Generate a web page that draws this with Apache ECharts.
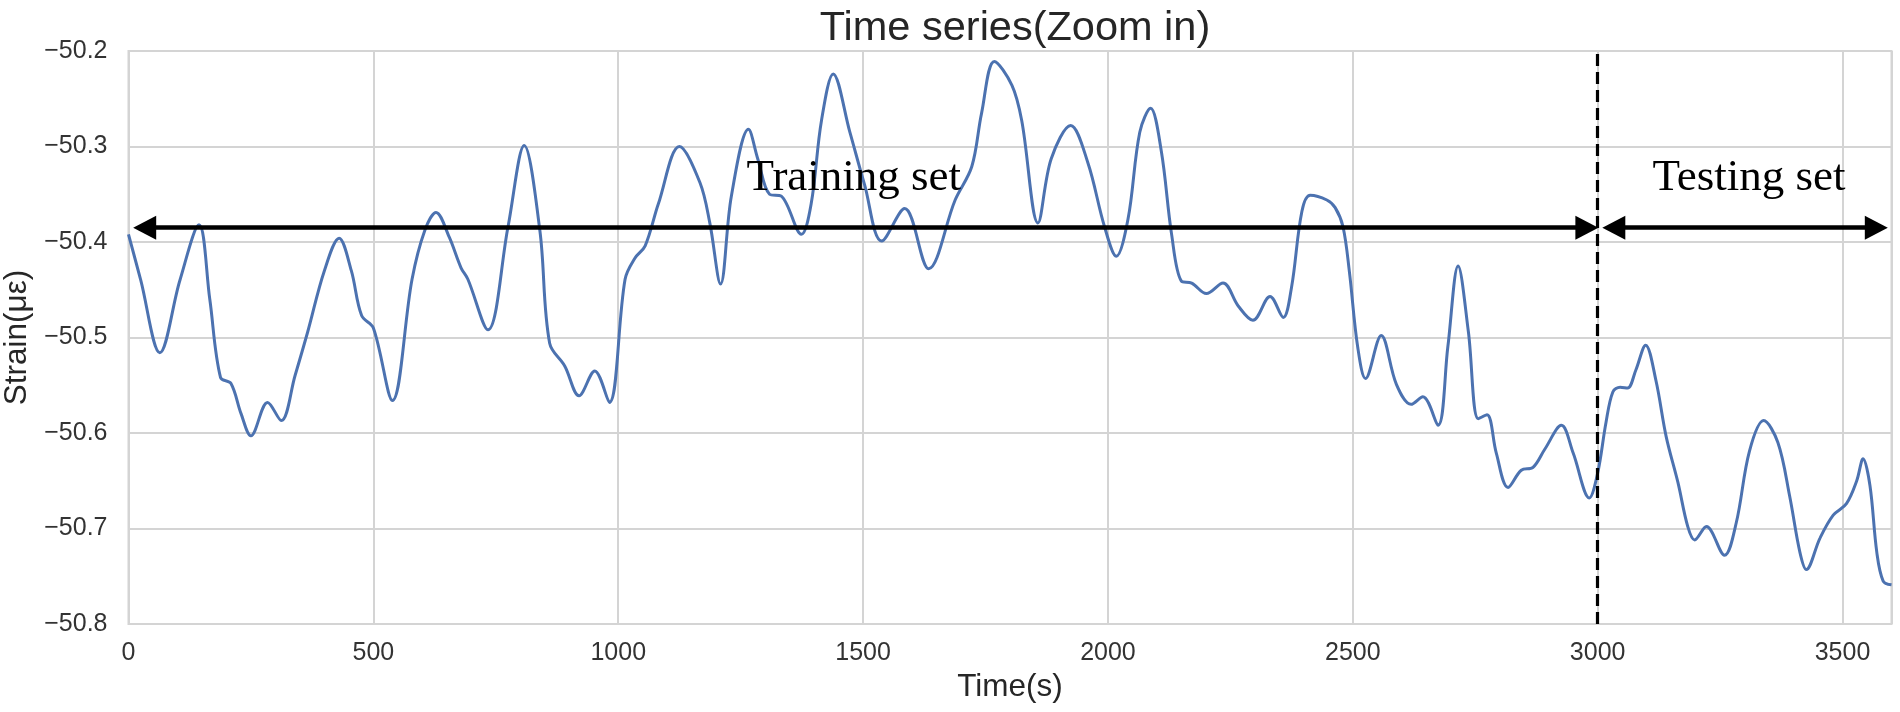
<!DOCTYPE html>
<html>
<head>
<meta charset="utf-8">
<script src="https://cdn.jsdelivr.net/npm/echarts@6/dist/echarts.min.js"></script>
<style>html,body{margin:0;padding:0;background:#fff}#c{width:1900px;height:712px}</style>
</head>
<body>
<div id="c"></div>
<script>
// Time (s)
const times = [0,25,64,105,144,166,188,209,230,250,284,312,340,366,400,430,455,476,500,539,579,605,628,655,679,693,734,775,808,840,860,891,920,952,982,1014,1034,1055,1082,1125,1167,1187,1209,1231,1266,1285,1309,1333,1374,1394,1415,1439,1473,1503,1538,1585,1634,1688,1722,1742,1768,1804,1824,1857,1884,1924,1959,1993,2017,2041,2065,2087,2109,2130,2150,2171,2201,2235,2266,2296,2331,2358,2375,2396,2413,2447,2464,2480,2493,2510,2526,2558,2589,2619,2643,2674,2694,2715,2736,2756,2774,2793,2817,2844,2868,2892,2926,2950,2983,3000,3017,3031,3046,3061,3078,3098,3119,3140,3164,3184,3198,3222,3259,3283,3310,3339,3368,3392,3413,3426,3454,3481,3508,3529,3542,3556,3570,3583,3600];
// Strain (με)
const strain = [-50.392,-50.440,-50.516,-50.440,-50.382,-50.460,-50.542,-50.548,-50.580,-50.603,-50.568,-50.587,-50.540,-50.494,-50.430,-50.396,-50.430,-50.477,-50.490,-50.566,-50.439,-50.388,-50.369,-50.395,-50.427,-50.439,-50.492,-50.384,-50.299,-50.388,-50.506,-50.530,-50.561,-50.535,-50.568,-50.439,-50.417,-50.404,-50.360,-50.300,-50.338,-50.380,-50.444,-50.352,-50.282,-50.313,-50.350,-50.352,-50.392,-50.360,-50.273,-50.224,-50.285,-50.340,-50.399,-50.365,-50.428,-50.356,-50.321,-50.265,-50.211,-50.236,-50.273,-50.380,-50.313,-50.278,-50.317,-50.384,-50.415,-50.376,-50.285,-50.260,-50.305,-50.392,-50.441,-50.443,-50.454,-50.443,-50.467,-50.482,-50.457,-50.479,-50.447,-50.368,-50.351,-50.356,-50.364,-50.384,-50.431,-50.510,-50.543,-50.498,-50.549,-50.570,-50.562,-50.592,-50.510,-50.425,-50.494,-50.585,-50.581,-50.621,-50.657,-50.639,-50.636,-50.617,-50.592,-50.621,-50.668,-50.642,-50.589,-50.557,-50.552,-50.553,-50.534,-50.508,-50.545,-50.604,-50.652,-50.698,-50.712,-50.698,-50.728,-50.694,-50.619,-50.587,-50.610,-50.666,-50.725,-50.743,-50.710,-50.686,-50.674,-50.650,-50.627,-50.655,-50.725,-50.755,-50.759];

const splitTime = 3000;
const arrowY = -50.385;
const trainArrow = [33, 2978];
const testArrow = [3033, 3569];
const labelY = -50.333;
const trainLabelX = 1481;
const testLabelX = 3309;
const labels = ['Training set', 'Testing set'];

const chart = echarts.init(document.getElementById('c'), null, {renderer: 'canvas'});
const txt = '#262626';
const gridColor = '#d4d4d4';

const arrowLine = {color: '#000', width: 4.5, type: 'solid'};

chart.setOption({
  animation: false,
  backgroundColor: '#fff',
  title: {
    text: 'Time series(Zoom in)',
    left: 1010, top: 3, textAlign: 'center',
    textStyle: {fontFamily: 'Liberation Sans, Arial', fontSize: 41.5, fontWeight: 'normal', color: txt}
  },
  grid: {left: 128.5, right: 8.5, top: 51, bottom: 88, show: true, borderColor: gridColor, borderWidth: 2, outerBoundsMode: 'none', containLabel: false},
  xAxis: {
    type: 'value', min: 0, max: 3600, interval: 500,
    name: 'Time(s)', nameLocation: 'middle', nameGap: 47,
    nameTextStyle: {fontFamily: 'Liberation Sans, Arial', fontSize: 31.5, color: txt},
    axisLine: {show: false}, axisTick: {show: false},
    axisLabel: {showMaxLabel: false, margin: 17, fontFamily: 'Liberation Sans, Arial', fontSize: 25, color: '#333',
      formatter: v => String(v)},
    splitLine: {show: true, lineStyle: {color: gridColor, width: 2}}
  },
  yAxis: {
    type: 'value', min: -50.8, max: -50.2, interval: 0.1,
    name: 'Strain(με)', nameLocation: 'middle', nameGap: 92,
    nameTextStyle: {fontFamily: 'Liberation Sans, Arial', fontSize: 31.5, color: txt},
    axisLine: {show: false}, axisTick: {show: false},
    axisLabel: {margin: 21, fontFamily: 'Liberation Sans, Arial', fontSize: 25, color: '#333',
      formatter: v => '\u2212' + Math.abs(v).toFixed(1)},
    splitLine: {show: true, lineStyle: {color: gridColor, width: 2}}
  },
  series: [{
    type: 'line',
    data: times.map((t, i) => [t, strain[i]]),
    smooth: 0.35,
    showSymbol: false,
    lineStyle: {color: '#4C72B0', width: 3},
    z: 3,
    markLine: {
      silent: true,
      animation: false,
      symbol: ['none', 'none'],
      label: {show: false},
      data: [
        {xAxis: splitTime, lineStyle: {color: '#000', width: 3.2, type: [12, 6]}},
        [
          {coord: [trainArrow[0], arrowY], symbol: 'triangle', symbolSize: [24, 23], lineStyle: arrowLine},
          {coord: [trainArrow[1], arrowY], symbol: 'triangle', symbolSize: [24, 23]}
        ],
        [
          {coord: [testArrow[0], arrowY], symbol: 'triangle', symbolSize: [24, 23], lineStyle: arrowLine},
          {coord: [testArrow[1], arrowY], symbol: 'triangle', symbolSize: [24, 23]}
        ]
      ],
      lineStyle: arrowLine,
      itemStyle: {color: '#000'}
    },
    markPoint: {
      silent: true,
      animation: false,
      symbolSize: 0,
      label: {show: true, position: 'inside', fontFamily: 'Liberation Serif, Times New Roman, serif', fontSize: 45, color: '#000'},
      data: [
        {coord: [trainLabelX, labelY], value: labels[0], label: {formatter: labels[0]}},
        {coord: [testLabelX, labelY], value: labels[1], label: {formatter: labels[1]}}
      ]
    }
  }]
});
</script>
</body>
</html>
